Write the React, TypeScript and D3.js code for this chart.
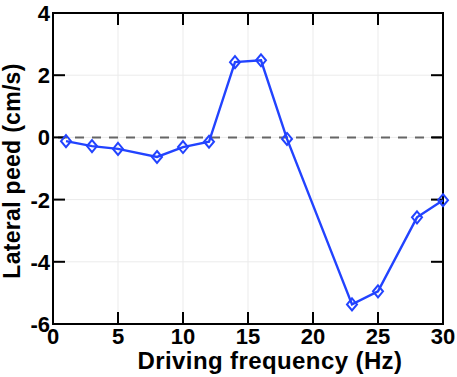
import React from 'react';
import * as d3 from 'd3';

// frequency (Hz) and lateral speed (cm/s)
const freqs = [1, 3, 5, 8, 10, 12, 14, 16, 18, 23, 25, 28, 30];
const speeds = [-0.12, -0.28, -0.37, -0.63, -0.31, -0.14, 2.42, 2.48, -0.05, -5.37, -4.95, -2.57, -2.02];
const xTicks = [0, 5, 10, 15, 20, 25, 30];
const yTicks = [-6, -4, -2, 0, 2, 4];

const W = 457;
const H = 377;
const m = { left: 53, right: 14, top: 13, bottom: 53 };

export default function App() {
  const x = d3.scaleLinear().domain([0, 30]).range([m.left, W - m.right]);
  const y = d3.scaleLinear().domain([-6, 4]).range([H - m.bottom, m.top]);
  const pts = freqs.map((f, i) => ({ f, v: speeds[i] }));
  const line = d3.line<{ f: number; v: number }>().x(d => x(d.f)).y(d => y(d.v));
  const font = 'Liberation Sans, Arial, sans-serif';
  const blue = '#2243ff';
  const tk = 12;

  return (
    <svg width={W} height={H} style={{ position: 'absolute', left: 0, top: 0 }}>
      <rect width={W} height={H} fill="#fff" />
      {/* grid */}
      {xTicks.map(t => (
        <line key={'gx' + t} x1={x(t)} x2={x(t)} y1={y(4)} y2={y(-6)} stroke="#ebebeb" strokeWidth={1} />
      ))}
      {yTicks.map(t => (
        <line key={'gy' + t} x1={x(0)} x2={x(30)} y1={y(t)} y2={y(t)} stroke="#ebebeb" strokeWidth={1} />
      ))}
      {/* zero line */}
      <line x1={x(0)} x2={x(30)} y1={y(0)} y2={y(0)} stroke="#666" strokeWidth={2} strokeDasharray="9 8" strokeDashoffset={-5} />
      {/* ticks */}
      {xTicks.map(t => (
        <g key={'tx' + t}>
          <line x1={x(t)} x2={x(t)} y1={y(-6)} y2={y(-6) - tk} stroke="#000" strokeWidth={2} />
          <line x1={x(t)} x2={x(t)} y1={y(4)} y2={y(4) + tk} stroke="#000" strokeWidth={2} />
          <text x={x(t)} y={y(-6) + 20} textAnchor="middle" fontFamily={font} fontWeight="bold" fontSize={22}>{t}</text>
        </g>
      ))}
      {yTicks.map(t => (
        <g key={'ty' + t}>
          <line x1={x(0)} x2={x(0) + tk} y1={y(t)} y2={y(t)} stroke="#000" strokeWidth={2} />
          <line x1={x(30)} x2={x(30) - tk} y1={y(t)} y2={y(t)} stroke="#000" strokeWidth={2} />
          <text x={x(0) - 3} y={y(t) + 8} textAnchor="end" fontFamily={font} fontWeight="bold" fontSize={22}>{t}</text>
        </g>
      ))}
      <rect x={x(0)} y={y(4)} width={x(30) - x(0)} height={y(-6) - y(4)} fill="none" stroke="#000" strokeWidth={2} />
      {/* series */}
      <path d={line(pts) || ''} fill="none" stroke={blue} strokeWidth={2.4} />
      {pts.map((p, i) => {
        const cx = x(p.f), cy = y(p.v);
        return (
          <path key={i} d={`M${cx},${cy - 6}L${cx + 5},${cy}L${cx},${cy + 6}L${cx - 5},${cy}Z`} fill="none" stroke={blue} strokeWidth={2} />
        );
      })}
      {/* labels */}
      <text x={270} y={369} textAnchor="middle" fontFamily={font} fontWeight="bold" fontSize={24} letterSpacing={0.4}>Driving frequency (Hz)</text>
      <text transform={`translate(20,171) rotate(-90)`} textAnchor="middle" fontFamily={font} fontWeight="bold" fontSize={23} letterSpacing={0.3}>Lateral peed (cm/s)</text>
    </svg>
  );
}
